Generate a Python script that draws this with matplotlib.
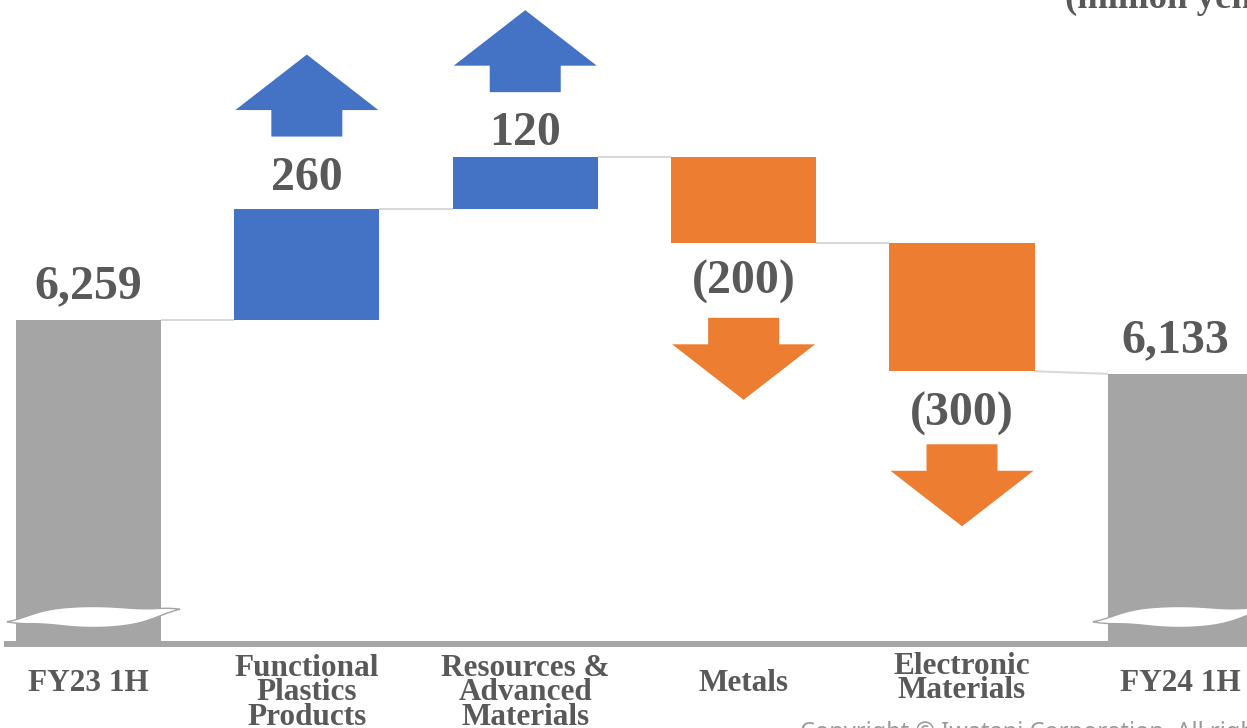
import numpy as np
import matplotlib.pyplot as plt
from matplotlib.patches import Polygon

# operating profit bridge, million yen
categories = ['FY23 1H', 'Functional\nPlastics\nProducts', 'Resources &\nAdvanced\nMaterials',
              'Metals', 'Electronic\nMaterials', 'FY24 1H']
start_total = 6259
end_total = 6133
changes = [260, 120, -200, -300]
value_labels = ['6,259', '260', '120', '(200)', '(300)', '6,133']
unit_label = '(million yen)'
footer = 'Copyright © Iwatani Corporation. All rights reserved.'

GRAY = '#A5A5A5'
BLUE = '#4472C4'
ORANGE = '#ED7D31'
TEXT = '#595959'
LINK = '#D9D9D9'

W, H = 1247, 728
fig = plt.figure(figsize=(W / 100, H / 100), dpi=100)
ax = fig.add_axes([0, 0, 1, 1])
x0, x1 = -0.405, 5.305
y0, y1 = 5306, 7006
ax.set_xlim(x0, x1)
ax.set_ylim(y0, y1)
ax.axis('off')

# pixel -> data helpers (y measured from the top edge)
ux = (x1 - x0) / W
uy = (y1 - y0) / H
def ypx(p):
    return y1 - p * uy

base = ypx(641)          # broken axis: bars start here
width = 0.664
xs = np.arange(len(categories))

levels = start_total + np.concatenate([[0], np.cumsum(changes)])

# totals
ax.bar(xs[0], start_total - base, bottom=base, width=width, color=GRAY, zorder=2)
ax.bar(xs[-1], end_total - base, bottom=base, width=width, color=GRAY, zorder=2)

# changes
for i, c in enumerate(changes):
    lo = min(levels[i], levels[i + 1])
    ax.bar(xs[i + 1], abs(c), bottom=lo, width=width,
           color=BLUE if c > 0 else ORANGE, zorder=2)

# connector lines: each bar's running total carried to the next bar
for i in range(len(categories) - 1):
    y_next = levels[i] if i + 1 < len(levels) else end_total
    ax.plot([xs[i] + width / 2, xs[i + 1] - width / 2], [levels[i], y_next],
            color=LINK, lw=1.5, zorder=1, solid_capstyle='butt')

# baseline
ax.plot([x0 + 4 * ux, x1], [ypx(644), ypx(644)], color=GRAY, lw=4.3,
        zorder=1, solid_capstyle='butt')

# wavy break marks on the total bars
def wave(xl):
    t = np.linspace(0, 1, 160)
    xx = xl + t * 173 * ux
    cos = np.cos(np.pi * t)
    c = 615.5 + 6.2 * np.sign(cos) * np.abs(cos) ** 7 + 1.5 * np.sin(np.pi * t)
    h = 10.5 * np.sin(np.pi * t) ** 1.0
    top = ypx(c - h)
    bot = ypx(c + h)
    pts = np.column_stack([np.concatenate([xx, xx[::-1]]),
                           np.concatenate([top, bot[::-1]])])
    ax.add_patch(Polygon(pts, closed=True, facecolor='white', edgecolor=GRAY,
                         lw=1.0, zorder=3))

wave(xs[0] - width / 2 - 9 * ux)
wave(xs[-1] - width / 2 - 15 * ux)

# arrows (sizes in pixels)
def arrow(xc, y_start, up, color):
    s = 1 if up else -1
    sw, hw = 35.5 * ux, 71.5 * ux
    sl, hl = 26.5 * uy, 55.5 * uy
    ya = y_start + s * sl
    yt = ya + s * hl
    pts = [(xc - sw, y_start), (xc + sw, y_start), (xc + sw, ya), (xc + hw, ya),
           (xc, yt), (xc - hw, ya), (xc - sw, ya)]
    ax.add_patch(Polygon(pts, closed=True, facecolor=color, edgecolor='none', zorder=2))

arrow_gap = [72, 65, 75, 73]
for i, c in enumerate(changes):
    if c > 0:
        arrow(xs[i + 1], max(levels[i], levels[i + 1]) + arrow_gap[i] * uy, True, BLUE)
    else:
        arrow(xs[i + 1], min(levels[i], levels[i + 1]) - arrow_gap[i] * uy, False, ORANGE)

# value labels
label_gap = [22, 19, 12.5, 51, 54, 22]
label_dx = [0, 0, 0, 0, 0, -5]
tops = [start_total] + [max(levels[i], levels[i + 1]) for i in range(len(changes))] + [end_total]
bots = [start_total] + [min(levels[i], levels[i + 1]) for i in range(len(changes))] + [end_total]
signs = [1] + [1 if c > 0 else -1 for c in changes] + [1]
for i, lab in enumerate(value_labels):
    y = tops[i] + label_gap[i] * uy if signs[i] > 0 else bots[i] - label_gap[i] * uy
    ax.text(xs[i] + label_dx[i] * ux, y, lab, ha='center', va='baseline', fontsize=34.5,
            fontfamily='Liberation Serif', fontweight='bold', color=TEXT)

# category labels
label_y = [683.5, 693, 693, 683.5, 678.5, 683.5]
for i, cat in enumerate(categories):
    ax.text(xs[i], ypx(label_y[i]), cat, ha='center', va='center', fontsize=22.5,
            fontfamily='Liberation Serif', fontweight='bold', color=TEXT,
            linespacing=0.79)

ax.text(x0 + 1065 * ux, ypx(8), unit_label, ha='left', va='baseline', fontsize=26.5,
        fontfamily='Liberation Serif', fontweight='bold', color=TEXT)

fig.text(800 / W, 1 - 721 / H, footer, ha='left', va='top', fontsize=17,
         fontfamily='Noto Sans', color='#9A9A9A')

fig.savefig('out.png', dpi=100)
